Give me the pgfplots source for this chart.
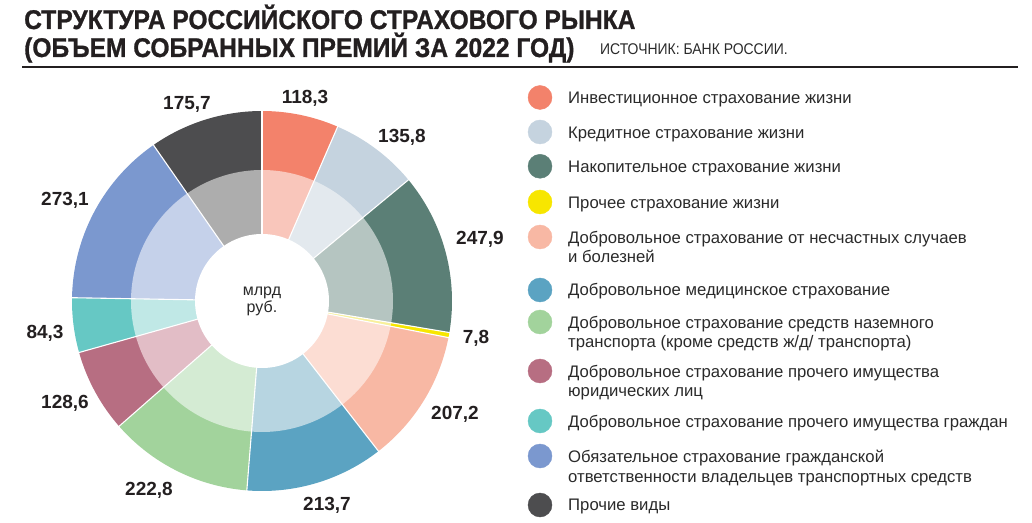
\documentclass[border=0pt]{standalone}
\usepackage{pgfplots}
\pgfplotsset{compat=1.18}
\usepackage{pgfplotstable}
\usepackage{fontspec}
\setmainfont{Liberation Sans}
\newfontfamily\titlefont{Liberation Sans}[FakeStretch=0.91, FakeBold=1]
\newfontfamily\srcfont{Liberation Sans}[FakeStretch=0.9]

% outer ring / inner (lighter) ring colours
\definecolor{invO}{HTML}{F3826B}\definecolor{invI}{HTML}{F9C6BB}
\definecolor{crdO}{HTML}{C5D3DF}\definecolor{crdI}{HTML}{E3E9EE}
\definecolor{nakO}{HTML}{5B7F76}\definecolor{nakI}{HTML}{B5C5C1}
\definecolor{othO}{HTML}{F7E600}\definecolor{othI}{HTML}{F8F09A}
\definecolor{accO}{HTML}{F8B8A4}\definecolor{accI}{HTML}{FCDDD3}
\definecolor{medO}{HTML}{5BA3C2}\definecolor{medI}{HTML}{B7D5E1}
\definecolor{trnO}{HTML}{A2D39C}\definecolor{trnI}{HTML}{D4EBD3}
\definecolor{jurO}{HTML}{B76E82}\definecolor{jurI}{HTML}{E2BDC6}
\definecolor{citO}{HTML}{66C8C4}\definecolor{citI}{HTML}{C0E8E6}
\definecolor{osaO}{HTML}{7B98CF}\definecolor{osaI}{HTML}{C5D1EA}
\definecolor{etcO}{HTML}{4D4D4F}\definecolor{etcI}{HTML}{ADADAD}
\definecolor{ink}{HTML}{231F20}
\definecolor{txt}{HTML}{2A2A2A}

% premiums 2022, bn rub, clockwise from 12 o'clock
\pgfplotstableread{
val   outer inner
118.3 invO  invI
135.8 crdO  crdI
247.9 nakO  nakI
7.8   othO  othI
207.2 accO  accI
213.7 medO  medI
222.8 trnO  trnI
128.6 jurO  jurI
84.3  citO  citI
273.1 osaO  osaI
175.7 etcO  etcI
}\premiums

\pgfplotstablegetrowsof{\premiums}
\pgfmathtruncatemacro\lastrow{\pgfplotsretval-1}
\def\total{0}
\pgfplotsforeachungrouped \i in {0,...,\lastrow}{%
  \pgfplotstablegetelem{\i}{val}\of\premiums
  \pgfmathsetmacro\total{\total+\pgfplotsretval}%
}

% draws one ring: #1 = colour column, #2 = radius
\newcommand\ring[2]{%
  \def\cum{0}%
  \pgfplotsforeachungrouped \i in {0,...,\lastrow}{%
    \pgfplotstablegetelem{\i}{val}\of\premiums \let\v\pgfplotsretval
    \pgfplotstablegetelem{\i}{#1}\of\premiums \let\c\pgfplotsretval
    \pgfmathsetmacro\a{90-360*(\cum/\total)}%
    \pgfmathsetmacro\cum{\cum+\v}%
    \pgfmathsetmacro\b{90-360*(\cum/\total)}%
    \edef\temp{\noexpand\addplot[fill=\c, draw=none, data cs=polar,
      domain=\b:\a, samples=61, forget plot] ({x},{#2}) -- (0,0) -- cycle;}%
    \temp
  }%
}

\begin{document}
\begin{tikzpicture}
\begin{axis}[
  x=1pt, y=1pt,
  xmin=-262, xmax=770, ymin=-221, ymax=301,
  hide axis, clip=false,
]
\addplot [draw=none, forget plot] coordinates {(-262,-221) (770,301)};

\ring{outer}{190}
\ring{inner}{131}
\addplot [fill=white, draw=none, data cs=polar, domain=0:360, samples=121,
  forget plot] ({x},{67}) -- cycle;

% white separators
\def\cum{0}
\pgfplotsforeachungrouped \i in {0,...,\lastrow}{%
  \pgfplotstablegetelem{\i}{val}\of\premiums \let\v\pgfplotsretval
  \pgfmathsetmacro\a{90-360*(\cum/\total)}%
  \pgfmathsetmacro\cum{\cum+\v}%
  \edef\temp{\noexpand\addplot[white, line width=1.1pt, data cs=polar, forget plot]
    coordinates {(\a,66) (\a,191)};}%
  \temp
}

% value labels
\begin{scope}[every node/.style={font=\fontsize{19}{22}\selectfont\bfseries, text=ink, inner sep=0pt}]
\node at (axis cs:43,203) {118,3};
\node at (axis cs:140,164) {135,8};
\node at (axis cs:218,62) {247,9};
\node at (axis cs:214,-37) {7,8};
\node at (axis cs:193,-113) {207,2};
\node at (axis cs:65,-204) {213,7};
\node at (axis cs:-113,-189) {222,8};
\node at (axis cs:-197,-102) {128,6};
\node at (axis cs:-217,-32) {84,3};
\node at (axis cs:-197,101) {273,1};
\node at (axis cs:-75,197) {175,7};
\end{scope}

\node[font=\fontsize{16}{17}\selectfont, text=txt, align=center, inner sep=0pt]
  at (axis cs:0,0) {млрд\\руб.};

% title
\node[anchor=base west, inner sep=0pt, text=ink,
  font=\titlefont\fontsize{27}{30}\selectfont\bfseries]
  at (axis cs:-238,272) {СТРУКТУРА РОССИЙСКОГО СТРАХОВОГО РЫНКА};
\node[anchor=base west, inner sep=0pt, text=ink,
  font=\titlefont\fontsize{27}{30}\selectfont\bfseries]
  at (axis cs:-238,244) {(ОБЪЕМ СОБРАННЫХ ПРЕМИЙ ЗА 2022 ГОД)};
\node[anchor=base west, inner sep=0pt, text=txt,
  font=\srcfont\fontsize{15.5}{18}\selectfont]
  at (axis cs:338,246) {ИСТОЧНИК: БАНК РОССИИ.};
\draw[ink, line width=1.3pt] (axis cs:-240,234) -- (axis cs:756,234);

% legend markers
\addplot [only marks, mark=*, mark size=12, color=invO, forget plot] coordinates {(278,203.5)};
\addplot [only marks, mark=*, mark size=12, color=crdO, forget plot] coordinates {(278,169)};
\addplot [only marks, mark=*, mark size=12, color=nakO, forget plot] coordinates {(278,134.7)};
\addplot [only marks, mark=*, mark size=12, color=othO, forget plot] coordinates {(278,99)};
\addplot [only marks, mark=*, mark size=12, color=accO, forget plot] coordinates {(278,64)};
\addplot [only marks, mark=*, mark size=12, color=medO, forget plot] coordinates {(278,11)};
\addplot [only marks, mark=*, mark size=12, color=trnO, forget plot] coordinates {(278,-21)};
\addplot [only marks, mark=*, mark size=12, color=jurO, forget plot] coordinates {(278,-70)};
\addplot [only marks, mark=*, mark size=12, color=citO, forget plot] coordinates {(278,-120)};
\addplot [only marks, mark=*, mark size=12, color=osaO, forget plot] coordinates {(278,-155)};
\addplot [only marks, mark=*, mark size=12, color=etcO, forget plot] coordinates {(278,-204)};

% legend text
\begin{scope}[every node/.style={anchor=base west, inner sep=0pt, text=txt,
  font=\fontsize{16.7}{19}\selectfont}]
\node at (axis cs:306,197) {Инвестиционное страхование жизни};
\node at (axis cs:306,162.7) {Кредитное страхование жизни};
\node at (axis cs:306,128.7) {Накопительное страхование жизни};
\node at (axis cs:306,92.7) {Прочее страхование жизни};
\node at (axis cs:306,57.7) {Добровольное страхование от несчастных случаев};
\node at (axis cs:306,38.2) {и болезней};
\node at (axis cs:306,5) {Добровольное медицинское страхование};
\node at (axis cs:306,-27.3) {Добровольное страхование средств наземного};
\node at (axis cs:306,-47) {транспорта (кроме средств ж/д/ транспорта)};
\node at (axis cs:306,-76.3) {Добровольное страхование прочего имущества};
\node at (axis cs:306,-96) {юридических лиц};
\node at (axis cs:306,-126.3) {Добровольное страхование прочего имущества граждан};
\node at (axis cs:306,-161.3) {Обязательное страхование гражданской};
\node at (axis cs:306,-181) {ответственности владельцев транспортных средств};
\node at (axis cs:306,-209.7) {Прочие виды};
\end{scope}
\end{axis}
\end{tikzpicture}
\end{document}
